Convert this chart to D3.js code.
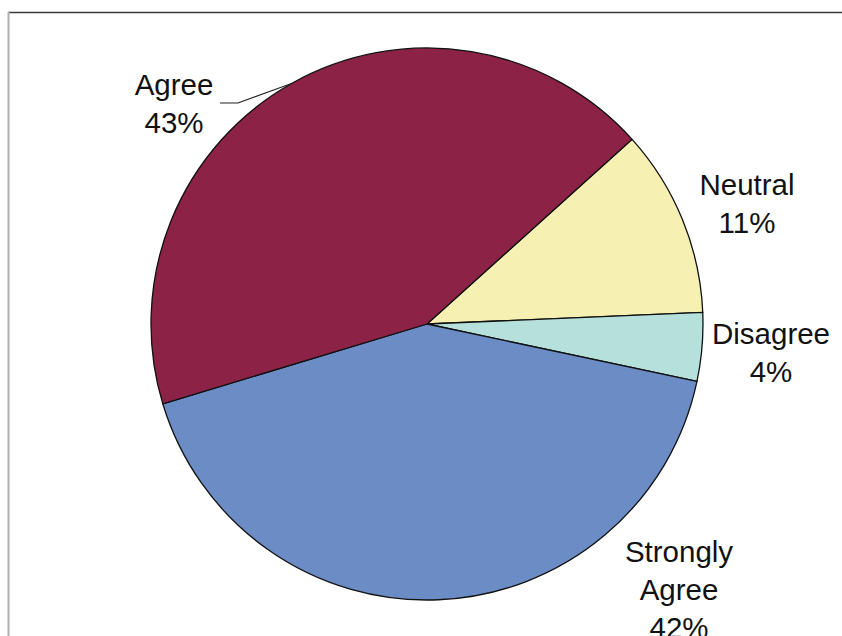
<!DOCTYPE html>
<html>
<head>
<meta charset="utf-8">
<script src="https://cdn.jsdelivr.net/npm/d3@7/dist/d3.min.js"></script>
<style>
  html, body { margin: 0; padding: 0; background: #fff; }
  svg { display: block; }
  text { font-family: "Liberation Sans", Arial, sans-serif; }
</style>
</head>
<body>
<svg id="chart" width="842" height="636"></svg>
<script>
// Survey responses (percent), in clockwise drawing order
const categories = ["Neutral", "Disagree", "Strongly Agree", "Agree"];
const percents = [11, 4, 42, 43];
const colors = ["#f6f0b2", "#b6e0dc", "#6b8cc5", "#8d2247"];

// Label lines for each category
const labelLines = [["Neutral", "11%"], ["Disagree", "4%"], ["Strongly", "Agree", "42%"], ["Agree", "43%"]];

const W = 842, H = 636;
const cx = 427, cy = 324, R = 276;
const startDeg = 48;

const svg = d3.select("#chart");
svg.append("rect").attr("width", W).attr("height", H).attr("fill", "#fff");

// Frame edges
svg.append("line").attr("x1", 8).attr("x2", W).attr("y1", 12.5).attr("y2", 12.5)
  .attr("stroke", "#3a3a3a").attr("stroke-width", 1.5);
svg.append("line").attr("x1", 8.5).attr("x2", 8.5).attr("y1", 12).attr("y2", H)
  .attr("stroke", "#b0b0b0").attr("stroke-width", 2);

const data = categories.map((c, i) => ({ name: c, value: percents[i], color: colors[i], lines: labelLines[i] }));

const start = startDeg * Math.PI / 180;
const pie = d3.pie().value(d => d.value).sort(null)
  .startAngle(start).endAngle(start + 2 * Math.PI);
const arcs = pie(data);
const arc = d3.arc().innerRadius(0).outerRadius(R);

const g = svg.append("g").attr("transform", `translate(${cx},${cy})`);
g.selectAll("path.slice").data(arcs).join("path")
  .attr("class", "slice")
  .attr("d", arc)
  .attr("fill", d => d.data.color)
  .attr("stroke", "#111")
  .attr("stroke-width", 1.3)
  .attr("stroke-linejoin", "round");

// Label placement (center x, first baseline) per category
const labelPos = {
  "Neutral": [747, 195],
  "Disagree": [771, 344],
  "Strongly Agree": [679, 562],
  "Agree": [174, 95]
};
const lineGap = 38;

arcs.forEach(a => {
  const [lx, ly] = labelPos[a.data.name];
  const t = svg.append("text")
    .attr("text-anchor", "middle")
    .attr("font-size", 29.5)
    .attr("fill", "#111");
  a.data.lines.forEach((s, k) => {
    t.append("tspan").attr("x", lx).attr("y", ly + k * lineGap).text(s);
  });
});

// Leader line from the Agree label to the middle of its arc
const agreeArc = arcs.find(a => a.data.name === "Agree");
const mid = (agreeArc.startAngle + agreeArc.endAngle) / 2;
const ex = cx + R * Math.sin(mid), ey = cy - R * Math.cos(mid);
svg.append("path")
  .attr("d", d3.line()([[220, 103], [238, 103], [ex, ey]]))
  .attr("fill", "none").attr("stroke", "#222").attr("stroke-width", 1.2);
</script>
</body>
</html>
